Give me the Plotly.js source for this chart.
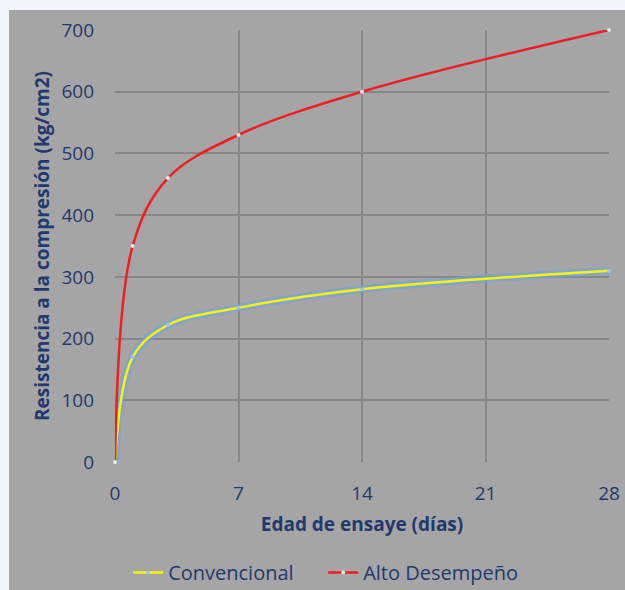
<!DOCTYPE html>
<html>
<head>
<meta charset="utf-8">
<script src="https://cdn.plot.ly/plotly-3.0.1.min.js"></script>
<style>
html,body{margin:0;padding:0;background:#f2f5f9;width:625px;height:590px;overflow:hidden;}
#chart{position:absolute;left:9px;top:10px;width:616px;height:580px;}
</style>
</head>
<body>
<div id="chart"></div>
<script>
const dias = [0, 1, 3, 7, 14, 28];
const convencional = [0, 170, 222, 250, 280, 310];
const altoDesempeno = [0, 350, 460, 530, 600, 700];
const xTicks = [0, 7, 14, 21, 28];
const textColor = '#1f3a6e';
const fontFam = 'Open Sans, Noto Sans, sans-serif';

const traces = [
  {x: dias, y: convencional, mode: 'lines', line: {color: 'rgba(110,165,225,0.6)', width: 8, shape: 'spline', smoothing: 1}, showlegend: false, hoverinfo: 'skip', cliponaxis: false},
  {x: dias, y: convencional, name: 'Convencional', mode: 'lines+markers', line: {color: '#f5f50a', width: 2.5, shape: 'spline', smoothing: 1}, marker: {color: '#9fc4e8', size: 4}, cliponaxis: false},
  {x: dias, y: altoDesempeno, name: 'Alto Desempeño', mode: 'lines+markers', line: {color: '#f01e1e', width: 2.5, shape: 'spline', smoothing: 1}, marker: {color: '#e8e8e8', size: 4}, cliponaxis: false}
];

const layout = {
  width: 616, height: 580,
  paper_bgcolor: '#a5a5a5', plot_bgcolor: '#a5a5a5',
  margin: {l: 106, r: 16, t: 20, b: 128},
  font: {family: fontFam, color: textColor, size: 18},
  xaxis: {
    range: [0, 28], tickvals: xTicks, ticktext: xTicks.map(String),
    showgrid: true, gridcolor: '#878787', gridwidth: 2, zeroline: false, showline: false,
    ticks: '', ticklabelstandoff: 18, automargin: false,
    tickfont: {size: 19, color: textColor, family: fontFam},
    title: {text: '<b>Edad de ensaye (días)</b>', font: {size: 19, color: textColor, family: fontFam}, standoff: 12}
  },
  yaxis: {
    range: [0, 700], dtick: 100,
    showgrid: true, gridcolor: '#878787', gridwidth: 2, zeroline: false, showline: false,
    ticks: '', ticklabelstandoff: 20, automargin: false,
    tickfont: {size: 19, color: textColor, family: fontFam},
    title: {text: '<b>Resistencia a la compresión (kg/cm2)</b>', font: {size: 19, color: textColor, family: fontFam}, standoff: 6}
  },
  legend: {orientation: 'h', x: 0.51, xanchor: 'center', xref: 'container', yref: 'container', y: 0.03, yanchor: 'middle', entrywidth: 150, entrywidthmode: 'pixels', itemwidth: 30, font: {size: 20, color: textColor, family: fontFam}, bgcolor: 'rgba(0,0,0,0)'},
  showlegend: true
};

Plotly.newPlot('chart', traces, layout, {displayModeBar: false, staticPlot: true});
</script>
</body>
</html>
